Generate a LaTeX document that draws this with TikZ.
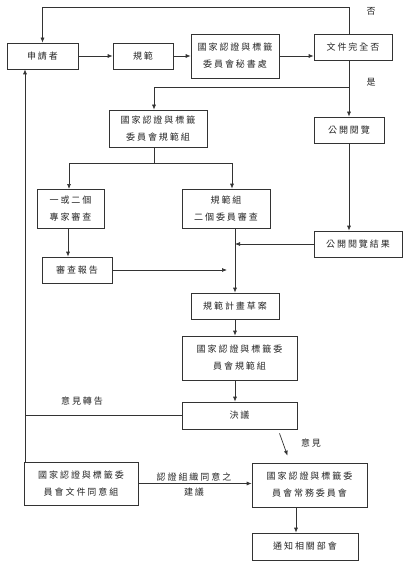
\documentclass[tikz,border=0pt]{standalone}
\usepackage{fontspec}
\newfontfamily\cjk[LetterSpace=22]{Noto Sans CJK TC}
\usetikzlibrary{arrows.meta,calc}
\tikzset{
  box/.style={draw=black!80,line width=0.7pt,inner sep=0pt,align=center,
    font=\cjk\fontsize{9}{17}\selectfont,text=black!85},
  lbl/.style={font=\cjk\fontsize{9}{15}\selectfont,text=black!85,inner sep=0pt,align=center},
  ln/.style={draw=black!80,line width=0.7pt},
  arr/.style={ln,-{Latex[length=5pt,width=4pt]}}
}
\begin{document}
\begin{tikzpicture}[x=1pt,y=-1pt]
\useasboundingbox[fill=white] (0,0) rectangle (411,567);
% nodes
\node[box,minimum width=71,minimum height=26] (app) at (42.5,56) {申請者};
\node[box,minimum width=60,minimum height=26] (spec) at (143,56) {規範};
\node[box,minimum width=88,minimum height=44] (sec) at (235,56) {國家認證與標籤\\委員會秘書處};
\node[box,minimum width=78,minimum height=26] (doc) at (353,47) {文件完全否};
\node[box,minimum width=98,minimum height=37] (grp1) at (158,128.5) {國家認證與標籤\\委員會規範組};
\node[box,minimum width=70,minimum height=26] (pub) at (349,130) {公開閱覽};
\node[box,minimum width=67,minimum height=39] (exp) at (70.5,208.5) {一或二個\\專家審查};
\node[box,minimum width=88,minimum height=39] (rev) at (226,208.5) {規範組\\二個委員審查};
\node[box,minimum width=88,minimum height=26] (pubres) at (358,244) {公開閱覽結果};
\node[box,minimum width=70,minimum height=26] (rep) at (77,270) {審查報告};
\node[box,minimum width=88,minimum height=26] (draft) at (235,306) {規範計畫草案};
\node[box,minimum width=115,minimum height=44] (grp2) at (239.5,358) {國家認證與標籤委\\員會規範組};
\node[box,minimum width=115,minimum height=27] (dec) at (239.5,415.5) {決議};
\node[box,minimum width=114,minimum height=43] (agr) at (81,483.5) {國家認證與標籤委\\員會文件同意組};
\node[box,minimum width=115,minimum height=44] (std) at (309.5,485) {國家認證與標籤委\\員會常務委員會};
\node[box,minimum width=106,minimum height=27] (notify) at (305,546.5) {通知相關部會};
% labels
\node[lbl] (no) at (371,11) {否};
\node[lbl] (yes) at (371,82) {是};
\node[lbl] (fwd) at (82,401) {意見轉告};
\node[lbl] (op) at (311,443) {意見};
\node[lbl] (sug) at (194,484.5) {認證組織同意之\\建議};
% helper coordinates
\coordinate (lx) at (25,0);
\coordinate (px) at (349,0);
\coordinate (sp) at (235,0);
\coordinate (topy) at (0,7);
\coordinate (bry) at (0,87);
\coordinate (br2) at (0,163);
% connectors
\draw[arr] (doc.north -| px) -- (px |- topy) -| (app.north);
\draw[arr] (app.east) -- (spec.west);
\draw[arr] (spec.east) -- (sec.west);
\draw[arr] (sec.east) -- (sec.east -| doc.west);
\draw[arr] (doc.south -| px) -- (pub.north);
\draw[arr] (px |- bry) -| (grp1.north -| 154,0);
\draw[ln] (grp1.south -| 154,0) -- (154,163);
\draw[arr] (69,163) -- (69,189) ;
\draw[ln] (69,163) -- (232,163);
\draw[arr] (232,163) -- (rev.north -| 232,0);
\draw[arr] (pub.south) -- (pub.south |- pubres.north);
\draw[arr] (pubres.west) -- (pubres.west -| sp);
\draw[arr] (exp.south -| 68,0) -- (rep.north -| 68,0);
\draw[arr] (rep.east) -- ($(rep.east -| sp)+(-8,0)$);
\draw[arr] (rev.south -| sp) -- (draft.north);
\draw[arr] (draft.south) -- (draft.south |- grp2.north);
\draw[arr] (grp2.south -| sp) -- (dec.north -| sp);
\draw[ln] (dec.west) -- (dec.west -| lx);
\draw[arr] (agr.north -| lx) -- (app.south -| lx);
\draw[arr] ($(dec.south)+(40,4)$) -- ($(std.north)+(-22,-7)$);
\draw[arr] (agr.east) -- (agr.east -| std.west);
\draw[arr] (std.south -| 296,0) -- (notify.north -| 296,0);
\end{tikzpicture}
\end{document}
